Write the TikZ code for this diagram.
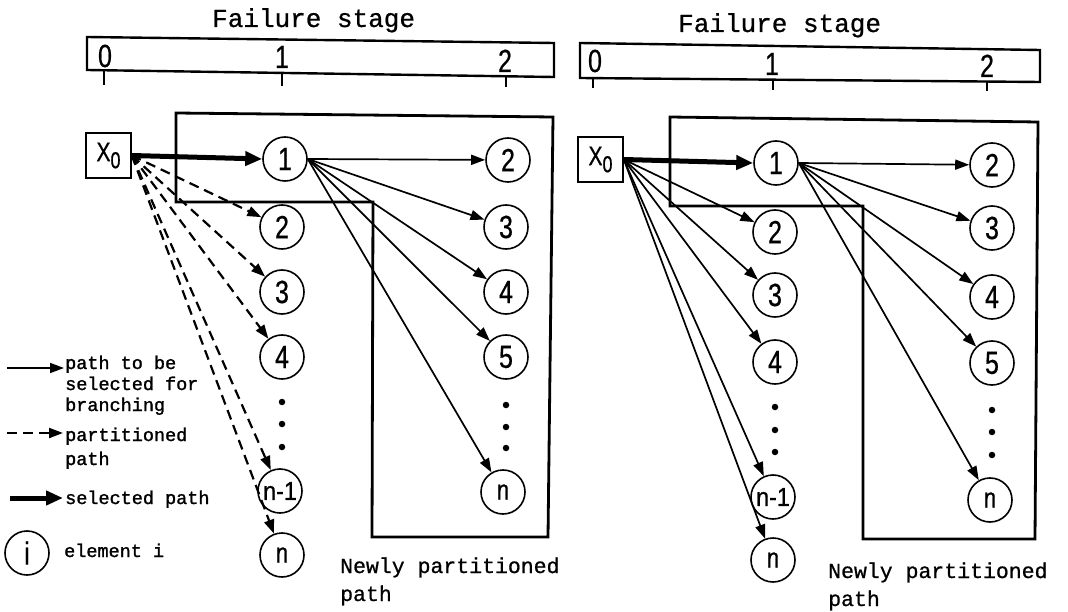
\documentclass[tikz,border=0pt]{standalone}
\usepackage{fontspec}
\usetikzlibrary{arrows.meta}
\newfontfamily\mono[FakeBold=0.8]{Liberation Mono}
\newfontfamily\monol[FakeBold=1.4]{Liberation Mono}
\newfontfamily\lab[FakeStretch=0.78,FakeBold=0.6]{Liberation Sans}
\newfontfamily\labw[FakeStretch=0.9,FakeBold=0.6]{Liberation Sans}
\begin{document}
\begin{tikzpicture}[x=1pt,y=-1pt,
  elem/.style={circle, draw, line width=1.6pt, minimum size=44pt, inner sep=0pt, font=\lab\fontsize{32}{32}\selectfont},
  elemsmall/.style={elem, font=\lab\fontsize{28}{28}\selectfont},
  elemwide/.style={elem, font=\labw\fontsize{26}{26}\selectfont},
  startbox/.style={rectangle, draw, line width=1.6pt, minimum width=45pt, minimum height=45pt, inner sep=0pt},
  thinarr/.style={line width=1.7pt, -{Triangle[length=14pt,width=10pt]}},
  dasharr/.style={line width=2.2pt, dash pattern=on 10pt off 6pt, -{Triangle[length=14pt,width=10pt]}},
  thickarr/.style={line width=5pt, -{Triangle[length=17pt,width=14pt]}},
  frame/.style={line width=2.8pt, line join=miter},
  bar/.style={line width=2.4pt, line join=miter},
  dotnode/.style={circle, fill, inner sep=0pt, minimum size=6.5pt},
  title/.style={anchor=base west, inner sep=0pt, font=\mono\fontsize{26}{26}\selectfont},
  caption/.style={anchor=base west, inner sep=0pt, font=\mono\fontsize{21.5}{21.5}\selectfont},
  legtext/.style={anchor=base west, inner sep=0pt, font=\monol\fontsize{18.5}{18.5}\selectfont},
  scalelab/.style={anchor=base, inner sep=0pt, font=\lab\fontsize{32}{32}\selectfont}
]
\useasboundingbox (0,0) rectangle (1068,612);
\fill[white] (0,0) rectangle (1068,612);

% ================= LEFT PANEL =================
\node[title] (Ltitle) at (212,27) {Failure stage};
\draw[bar] (87,37) -- (554,43) -- (554,77) -- (87,70) -- cycle;
\draw[bar] (104,70.3) -- (104,85);
\draw[bar] (282,72.9) -- (282,86);
\draw[bar] (506,76.3) -- (506,87);
\node[scalelab] (Ls0) at (105,67) {0};
\node[scalelab] (Ls1) at (282,68) {1};
\node[scalelab] (Ls2) at (505,72) {2};

\draw[frame] (176,113) -- (553,117) -- (548,537) -- (372,537) -- (373,202) -- (176,202) -- cycle;

\node[startbox] (Lx0) at (108.5,155.5) {\lab\fontsize{27}{27}\selectfont X\raisebox{-7pt}{\fontsize{23}{23}\selectfont 0}};
\node[elem] (L1) at (285,159) {1};
\node[elem] (La2) at (282,227) {2};
\node[elem] (La3) at (282,292) {3};
\node[elem] (La4) at (282,357) {4};
\node[dotnode] (Lad1) at (282,402) {};
\node[dotnode] (Lad2) at (282,424) {};
\node[dotnode] (Lad3) at (282,447) {};
\node[elemwide] (Lan1) at (280,491) {n-1};
\node[elemsmall] (Lan) at (282,555) {n};

\node[elem] (Lb2) at (508,160) {2};
\node[elem] (Lb3) at (506,227) {3};
\node[elem] (Lb4) at (506,292) {4};
\node[elem] (Lb5) at (506,357) {5};
\node[dotnode] (Lbd1) at (506,405) {};
\node[dotnode] (Lbd2) at (506,427) {};
\node[dotnode] (Lbd3) at (506,448) {};
\node[elemsmall] (Lbn) at (503,492) {n};

\draw[thickarr] (Lx0.east) -- (L1.west);
\foreach \t in {La2,La3,La4,Lan1,Lan} \draw[dasharr] (Lx0.east) -- (\t);
\foreach \t in {Lb2,Lb3,Lb4,Lb5,Lbn} \draw[thinarr] (L1.east) -- (\t);

\node[caption] (Lcap1) at (340,573) {Newly partitioned};
\node[caption] (Lcap2) at (340,601) {path};

% ================= LEGEND =================
\coordinate (g1a) at (7,368);  \coordinate (g1b) at (64,368);
\coordinate (g2a) at (7,433);  \coordinate (g2b) at (63,433);
\coordinate (g3a) at (10,498); \coordinate (g3b) at (63,498);
\draw[thinarr] (g1a) -- (g1b);
\draw[dasharr] (g2a) -- (g2b);
\draw[thickarr] (g3a) -- (g3b);
\node[legtext] (lt1) at (65,369) {path to be};
\node[legtext] (lt2) at (65,390) {selected for};
\node[legtext] (lt3) at (65,411) {branching};
\node[legtext] (lt4) at (65,441) {partitioned};
\node[legtext] (lt5) at (65,465) {path};
\node[legtext] (lt6) at (65,504) {selected path};
\node[elem] (leg) at (27,553) {i};
\node[legtext] (lt7) at (64,557) {element i};

% ================= RIGHT PANEL =================
\node[title] (Rtitle) at (678,32) {Failure stage};
\draw[bar] (580,43) -- (1040,50) -- (1040,82) -- (580,78) -- cycle;
\draw[bar] (593,78.1) -- (593,88);
\draw[bar] (773,79.7) -- (773,90);
\draw[bar] (987,81.5) -- (987,91);
\node[scalelab] (Rs0) at (595,72) {0};
\node[scalelab] (Rs1) at (772,75) {1};
\node[scalelab] (Rs2) at (987,77) {2};

\draw[frame] (670,117) -- (1038,122) -- (1035,539) -- (863,539) -- (863,206) -- (670,206) -- cycle;

\node[startbox] (Rx0) at (600.5,159.5) {\lab\fontsize{27}{27}\selectfont X\raisebox{-7pt}{\fontsize{23}{23}\selectfont 0}};
\node[elem] (R1) at (776,163) {1};
\node[elem] (Ra2) at (775,232) {2};
\node[elem] (Ra3) at (775,295) {3};
\node[elem] (Ra4) at (775,362) {4};
\node[dotnode] (Rad1) at (775,407) {};
\node[dotnode] (Rad2) at (775,430) {};
\node[dotnode] (Rad3) at (775,452) {};
\node[elemwide] (Ran1) at (773,497) {n-1};
\node[elemsmall] (Ran) at (773,560) {n};

\node[elem] (Rb2) at (992,165) {2};
\node[elem] (Rb3) at (992,228) {3};
\node[elem] (Rb4) at (992,297) {4};
\node[elem] (Rb5) at (992,363) {5};
\node[dotnode] (Rbd1) at (992,410) {};
\node[dotnode] (Rbd2) at (992,432) {};
\node[dotnode] (Rbd3) at (992,455) {};
\node[elemsmall] (Rbn) at (990,500) {n};

\draw[thickarr] (Rx0.east) -- (R1.west);
\foreach \t in {Ra2,Ra3,Ra4,Ran1,Ran} \draw[thinarr] (Rx0.east) -- (\t);
\foreach \t in {Rb2,Rb3,Rb4,Rb5,Rbn} \draw[thinarr] (R1.east) -- (\t);

\node[caption] (Rcap1) at (828,578) {Newly partitioned};
\node[caption] (Rcap2) at (828,606) {path};
\end{tikzpicture}
\end{document}
